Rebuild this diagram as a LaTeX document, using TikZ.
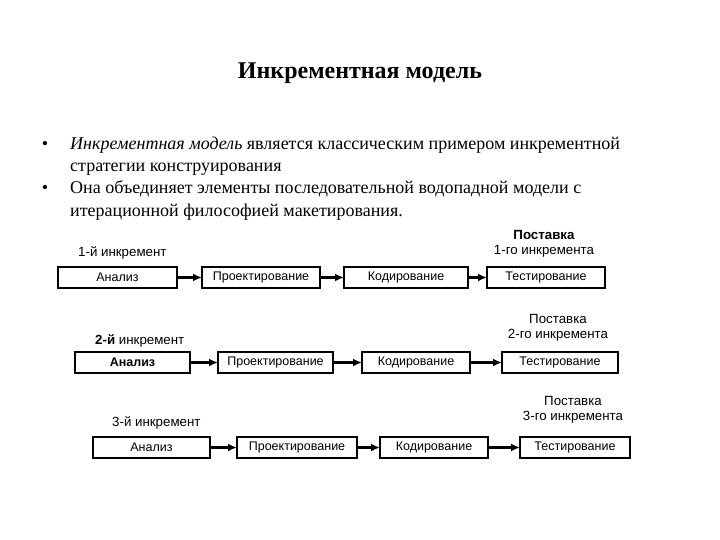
\documentclass[tikz,border=0pt]{standalone}
\usepackage{fontspec}
\setmainfont{Liberation Serif}
\newfontfamily\diagfont{Liberation Sans}
\usetikzlibrary{arrows.meta}
\tikzset{
  stage/.style={draw, line width=1.8pt, minimum height=21pt, inner sep=0pt, outer sep=0pt, font=\diagfont\fontsize{12.5}{14}\selectfont},
  flow/.style={line width=2.2pt, -{Latex[length=9pt,width=8pt]}},
  lbl/.style={inner sep=0pt, font=\diagfont\fontsize{13.3}{14.5}\selectfont, align=center},
  bodytext/.style={inner sep=0pt, anchor=base west, font=\fontsize{18}{21}\selectfont},
  bul/.style={inner sep=0pt, anchor=base, font=\fontsize{18}{21}\selectfont}
}
\begin{document}
\begin{tikzpicture}[x=1pt,y=-1pt]
\useasboundingbox (0,0) rectangle (720,540);
\node[inner sep=0pt, anchor=base, font=\bfseries\fontsize{24}{28}\selectfont] (title) at (360,79) {Инкрементная модель};

\node[bul] (b1) at (45,150) {•};
\node[bodytext] (l1) at (70,150) {\textit{Инкрементная модель} является классическим примером инкрементной};
\node[bodytext] (l2) at (70,172) {стратегии конструирования};
\node[bul] (b2) at (45,194) {•};
\node[bodytext] (l3) at (70,194) {Она объединяет элементы последовательной водопадной модели с};
\node[bodytext] (l4) at (70,216) {итерационной философией макетирования.};

% Row 1
\node[stage, minimum width=119pt] (a1) at (117.5,277.5) {Анализ};
\node[stage, minimum width=118pt] (p1) at (261,277.5) {Проектирование};
\node[stage, minimum width=124pt] (k1) at (406,277.5) {Кодирование};
\node[stage, minimum width=118pt] (t1) at (546,277.5) {Тестирование};
\draw[flow] (a1) -- (p1);
\draw[flow] (p1) -- (k1);
\draw[flow] (k1) -- (t1);
\node[lbl, anchor=west] (n1) at (78,253) {1-й инкремент};
\node[lbl] (d1) at (544,244) {\textbf{Поставка}\\1-го инкремента};

% Row 2
\node[stage, minimum width=115pt] (a2) at (132.5,362.5) {\textbf{Анализ}};
\node[stage, minimum width=115pt] (p2) at (275.5,362.5) {Проектирование};
\node[stage, minimum width=108pt] (k2) at (416,362.5) {Кодирование};
\node[stage, minimum width=116pt] (t2) at (560,362.5) {Тестирование};
\draw[flow] (a2) -- (p2);
\draw[flow] (p2) -- (k2);
\draw[flow] (k2) -- (t2);
\node[lbl, anchor=west] (n2) at (95,341) {\textbf{2-й} инкремент};
\node[lbl] (d2) at (558,328) {Поставка\\2-го инкремента};

% Row 3
\node[stage, minimum width=117pt] (a3) at (151.5,447.5) {Анализ};
\node[stage, minimum width=120pt] (p3) at (297,447.5) {Проектирование};
\node[stage, minimum width=108pt] (k3) at (434,447.5) {Кодирование};
\node[stage, minimum width=110pt] (t3) at (575,447.5) {Тестирование};
\draw[flow] (a3) -- (p3);
\draw[flow] (p3) -- (k3);
\draw[flow] (k3) -- (t3);
\node[lbl, anchor=west] (n3) at (112,423) {3-й инкремент};
\node[lbl] (d3) at (573,410) {Поставка\\3-го инкремента};
\end{tikzpicture}
\end{document}
